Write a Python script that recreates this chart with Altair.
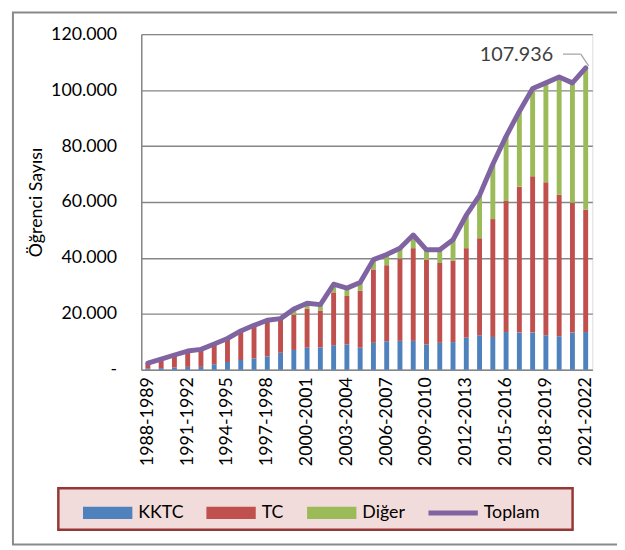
import altair as alt
import pandas as pd

years = [f"{y}-{y+1}" for y in range(1988, 2022)]

kktc = [400, 600, 800, 1050, 1050, 2000, 2800, 3500, 4100, 4800, 6100, 7100, 7900, 8000,
        8800, 9100, 7900, 9650, 10200, 10350, 10350, 9050, 9650, 9900, 11500, 12350,
        11750, 13500, 13300, 13300, 12350, 12000, 13300, 13500]
tc = [2000, 3200, 4500, 5600, 6150, 7100, 8250, 10200, 11550, 12600, 11800, 12600, 13900,
      13200, 18900, 17300, 20400, 26250, 27200, 29450, 33150, 30250, 28550, 29150, 32000,
      34700, 42150, 46850, 52200, 55900, 54700, 50600, 46450, 43800]
diger = [0, 0, 0, 50, 100, 100, 150, 200, 250, 300, 400, 2000, 2000, 2100, 2900, 2800, 2900,
         3500, 3800, 3700, 4700, 3600, 4700, 7450, 11800, 15350, 19600, 23150, 26900,
         31400, 35550, 42100, 42850, 50636]
toplam = [a + b + c for a, b, c in zip(kktc, tc, diger)]

series_names = ["KKTC", "TC", "Diğer", "Toplam"]
series_colors = ["#4F81BD", "#C0504D", "#9BBB59", "#8064A2"]
x_label_values = years[::3]
y_ticks = [0, 20000, 40000, 60000, 80000, 100000, 120000]

rows = []
for i, yr in enumerate(years):
    for order, (name, vals) in enumerate(zip(series_names[:3], [kktc, tc, diger])):
        rows.append({"year": yr, "series": name, "value": vals[i], "order": order})
bars_df = pd.DataFrame(rows)
tot_df = pd.DataFrame({"year": years, "total": toplam})
last_df = tot_df.tail(1)

FONT = "Lato"
GRAY = "#868686"

x_enc = alt.X("year:N", sort=years,
              scale=alt.Scale(paddingInner=0.63, paddingOuter=0.315),
              axis=alt.Axis(title=None, values=x_label_values, labelAngle=-90,
                            labelFontSize=18, labelFont=FONT, labelColor="#000",
                            ticks=False, labelPadding=7, domainColor=GRAY,
                            domainWidth=1.5))

y_scale = alt.Scale(domain=[0, 120000], nice=False)

bars = alt.Chart(bars_df).mark_bar().encode(
    x=x_enc,
    y=alt.Y("sum(value):Q", scale=y_scale, stack="zero",
            axis=alt.Axis(title="Öğrenci Sayısı", values=y_ticks,
                          labelExpr="datum.value == 0 ? '-\u00a0\u00a0' : replace(format(datum.value, ',.0f'), ',', '.')",
                          labelFontSize=18, labelFont=FONT, labelColor="#000",
                          ticks=False, labelPadding=25, titleFont=FONT,
                          titleFontSize=18, titleFontWeight="normal", titleColor="#000",
                          titlePadding=5, grid=True, gridColor=GRAY, gridWidth=1.3,
                          domainColor=GRAY, domainWidth=1.5)),
    color=alt.Color("series:N",
                    scale=alt.Scale(domain=series_names, range=series_colors),
                    legend=alt.Legend(
                        title=None, orient="none", direction="horizontal",
                        legendX=-59, legendY=460,
                        labelFont=FONT, labelFontSize=18, labelColor="#000",
                        labelOffset=6, columnPadding=23, padding=0,
                        symbolSize=2500, symbolStrokeWidth=0, symbolOpacity=1,
                        symbolType=alt.ExprRef(expr="datum.label === 'Toplam' ? 'M-1,-0.1L1,-0.1L1,0.1L-1,0.1Z' : 'M-1,-0.25L1,-0.25L1,0.25L-1,0.25Z'"),
                    )),
    order=alt.Order("order:Q"),
)

line = alt.Chart(tot_df).mark_line(color="#8064A2", strokeWidth=5, strokeJoin="round",
                                   strokeCap="round").encode(
    x=alt.X("year:N", sort=years),
    y=alt.Y("total:Q", scale=y_scale),
)

label = alt.Chart(last_df).mark_text(align="right", baseline="middle", dx=-33, dy=-13,
                                      fontSize=20, font=FONT, color="#404040").encode(
    x=alt.X("year:N", sort=years),
    y=alt.Y("total:Q", scale=y_scale),
    text=alt.Text("label:N"),
).transform_calculate(label="replace(format(datum.total, ',.0f'), ',', '.')")

lead1 = alt.Chart(last_df).mark_rule(color="#a6a6a6", strokeWidth=1.3,
                                      xOffset=-23, x2Offset=-5, yOffset=-14, y2Offset=-14).encode(
    x=alt.X("year:N", sort=years), x2="year:N",
    y=alt.Y("total:Q", scale=y_scale), y2="total:Q",
)
lead2 = alt.Chart(last_df).mark_rule(color="#a6a6a6", strokeWidth=1.3,
                                      xOffset=-5, x2Offset=3, yOffset=-14, y2Offset=-2).encode(
    x=alt.X("year:N", sort=years), x2="year:N",
    y=alt.Y("total:Q", scale=y_scale), y2="total:Q",
)

frame = alt.Chart(last_df).mark_rect(fill=None, stroke="#898989", strokeWidth=2).encode(
    x=alt.value(-130), x2=alt.value(520), y=alt.value(-22), y2=alt.value(517))

legend_box = alt.Chart(last_df).mark_rect(fill="#F2DCDB", stroke="#953735", strokeWidth=2.5).encode(
    x=alt.value(-84), x2=alt.value(437), y=alt.value(460), y2=alt.value(502))

chart = alt.layer(frame, legend_box, bars, line, lead1, lead2, label).properties(
    width=457, height=340, autosize="none",
    padding={"left": 135, "top": 23, "right": 25, "bottom": 179},
).configure_view(stroke=GRAY, strokeWidth=1.5).configure(background="white")

chart.save("out.html", embed_options={"renderer": "svg", "actions": False})
